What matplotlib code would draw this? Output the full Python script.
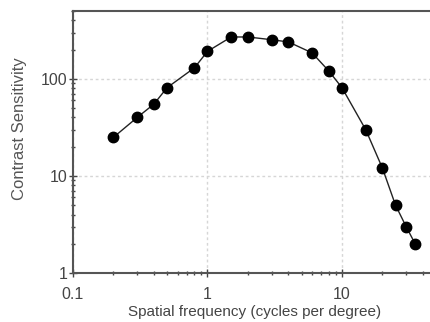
import matplotlib
matplotlib.use("Agg")
import matplotlib.pyplot as plt
from matplotlib.ticker import LogLocator, NullFormatter

plt.rcParams['font.family'] = ['Liberation Sans', 'DejaVu Sans']

freq = [0.2, 0.3, 0.4, 0.5, 0.8, 1.0, 1.5, 2.0, 3.0, 4.0, 6.0, 8.0, 10.0, 15.0, 20.0, 25.0, 30.0, 35.0]
sens = [25, 40, 55, 81, 130, 192, 270, 270, 253, 240, 185, 120, 81, 30, 12, 5.0, 3.0, 2.0]
xticks = [0.1, 1, 10]
xticklabels = ["0.1", "1", "10"]
yticks = [1, 10, 100]
yticklabels = ["1", "10", "100"]

fig = plt.figure(figsize=(4.30, 3.22), dpi=100)
ax = fig.add_axes([73/430, 49/322, (436-73)/430, (273-11)/322])
ax.set_xscale('log')
ax.set_yscale('log')
ax.set_xlim(0.1, 50)
ax.set_ylim(1, 500)

ax.plot(freq, sens, color='#222222', lw=1.0, marker='o', markersize=7.5,
        markerfacecolor='black', markeredgecolor='black', zorder=3)

ax.set_xticks(xticks)
ax.set_xticklabels(xticklabels)
ax.set_yticks(yticks)
ax.set_yticklabels(yticklabels)
ax.xaxis.set_minor_locator(LogLocator(base=10, subs=range(2, 10)))
ax.yaxis.set_minor_locator(LogLocator(base=10, subs=range(2, 10)))
ax.xaxis.set_minor_formatter(NullFormatter())
ax.yaxis.set_minor_formatter(NullFormatter())

ax.grid(True, which='major', color='#d6d6d6', linestyle=(0, (2, 2)), lw=1.0, zorder=0)

for s in ['left', 'bottom', 'top']:
    ax.spines[s].set_color('#555555')
    ax.spines[s].set_linewidth(1.5)
ax.spines['right'].set_visible(False)

ax.tick_params(which='major', direction='inout', length=6, width=1, color='#444444',
               labelsize=11.5, labelcolor='#444444')
ax.tick_params(axis='x', which='major', pad=7)
ax.tick_params(axis='y', which='major', pad=1)
ax.tick_params(which='minor', direction='inout', length=3, width=1, color='#444444')
ax.tick_params(axis='x', which='both', top=False)

ax.set_xlabel('Spatial frequency (cycles per degree)', fontsize=11, color='#444444', labelpad=2)
ax.set_ylabel('Contrast Sensitivity', fontsize=12, color='#555555')
ax.yaxis.set_label_coords(-0.127, 0.55)

fig.savefig('out.png', dpi=100)
